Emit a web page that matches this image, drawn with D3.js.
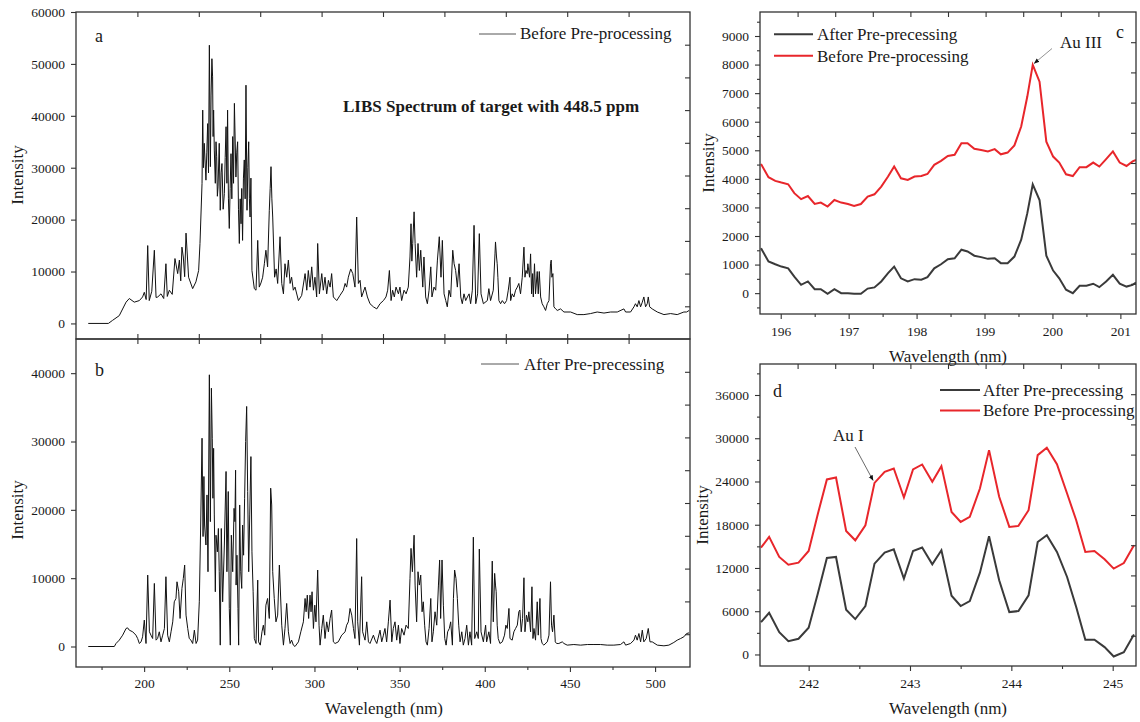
<!DOCTYPE html>
<html>
<head>
<meta charset="utf-8">
<script src="https://cdn.jsdelivr.net/npm/d3@7"></script>
<style>
  body { margin: 0; background: #fff; }
  svg text { font-family: "Liberation Serif", "Times New Roman", serif; fill: #1a1a1a; }
</style>
</head>
<body>
<div id="chart"></div>
<script>
// full spectrum before pre-processing [wavelength nm, intensity]
const spectrumBefore = [
  [167.2,0],[179.0,0],[181.5,600],[185.4,1500],[189.4,4100],[191.3,4800],[194.2,4100],[197.2,4400],
  [199.1,5100],[200.1,6000],[201.2,4600],[202.1,15000],[203.0,4400],[204.5,6200],[206.0,14100],[207.0,5000],[208.0,5100],
  [209.9,5700],[211.5,4800],[212.8,11500],[213.6,5200],[214.8,6400],[216.5,5600],[218.1,12500],[219.7,9600],[220.7,12200],
  [221.5,8200],[222.2,14700],[223.0,12800],[223.8,9000],[224.6,17400],[226.1,8900],[228.5,6700],[230.4,8000],
  [232.0,10200],[232.8,15400],[234.0,27000],[234.4,41100],[234.8,30000],[235.3,34700],[236.3,27600],[236.8,33000],[237.3,38500],
  [237.8,29000],[238.3,53600],[238.9,30200],[239.3,44000],[239.8,51000],[240.2,47500],[240.5,36000],[240.8,41100],[241.2,33400],
  [241.8,27000],[242.2,35000],[242.6,32100],[243.0,24500],[243.4,26300],[244.1,34700],[244.7,21800],[245.2,29000],[245.7,30800],
  [246.4,22000],[247.1,25000],[247.6,32000],[248.1,37900],[248.6,27000],[249.0,41100],[249.5,24000],[250.0,18300],[250.5,26000],[251.0,32700],
  [251.5,24000],[252.0,36000],[252.5,27000],[253.0,42400],[253.9,28200],[254.4,33000],[254.9,35000],[255.4,22000],[255.9,15400],
  [256.4,24000],[256.9,19200],[257.3,26000],[257.8,16000],[258.3,28000],[258.8,31500],[259.3,24000],[259.8,45900],[260.4,21800],
  [260.9,30000],[261.4,35000],[261.8,24000],[262.2,20500],[262.7,28000],[263.3,10200],[264.7,6700],[265.7,6400],[266.7,16000],
  [267.6,7000],[268.6,7800],[269.6,8900],[270.6,11500],[271.5,14100],[272.5,10900],[273.5,21800],[274.0,26000],[274.5,30200],[275.0,24000],
  [275.5,20500],[276.6,8900],[277.5,10500],[278.4,7700],[279.8,16700],[280.8,7700],[281.8,5700],[282.7,11500],[283.7,8900],
  [284.7,12200],[285.7,7700],[286.6,8900],[287.6,6400],[288.6,7000],[290.6,4400],[292.5,5400],[294.5,9600],
  [295.5,6400],[296.4,10200],[297.4,7000],[298.4,10900],[299.4,6400],[300.3,8900],[301.3,5100],[301.9,15400],
  [302.9,5700],[304.3,9600],[305.2,6400],[306.2,8900],[307.2,5700],[308.2,8300],[309.2,7000],[310.1,9600],
  [311.1,5100],[313.1,4400],[315.0,5400],[317.0,6400],[318.0,7700],[318.9,7000],[319.9,8900],[321.3,10500],
  [322.5,9600],[323.8,7000],[324.8,20500],[325.8,7700],[326.8,8300],[327.7,5100],[329.7,7000],[331.1,5100],
  [332.6,3800],[334.6,3200],[336.6,2800],[338.5,3800],[340.5,4400],[342.0,5100],[343.0,6400],[344.0,10200],
  [345.0,4400],[345.9,6400],[346.9,5100],[347.9,7000],[349.3,5700],[350.2,7000],[351.2,4400],[352.6,6400],
  [353.8,5700],[355.1,7000],[356.1,12800],[356.7,19200],[357.2,12000],[357.7,15400],[358.5,21500],[359.1,15400],[360.0,8900],
  [360.8,15400],[361.6,10200],[362.4,14100],[363.6,7000],[364.3,12800],[365.3,5100],[366.3,3800],[367.3,6400],
  [368.3,10900],[369.0,5100],[370.2,7000],[371.2,6400],[372.2,12200],[373.3,16700],[374.3,8900],[375.1,16000],
  [376.1,5700],[377.1,4400],[378.0,3200],[379.0,6400],[380.0,5100],[381.2,14100],[382.0,11500],[382.9,10200],
  [383.9,7000],[384.9,11500],[385.9,5100],[386.8,3800],[387.8,5700],[388.8,4400],[389.8,5100],[390.8,5700],
  [391.7,3800],[392.7,6400],[393.7,18900],[394.7,3800],[395.8,5700],[396.8,17300],[397.8,5700],[399.2,3800],
  [401.5,4400],[402.4,6700],[403.4,4400],[405.0,6400],[406.0,13400],[406.3,15700],[406.9,12800],[407.3,11500],
  [407.7,8900],[408.3,4400],[409.3,3800],[410.3,4400],[411.6,3800],[412.8,4400],[413.8,6400],[414.8,8900],
  [415.2,4400],[416.1,5700],[417.1,5100],[418.1,6400],[419.1,7000],[420.0,7700],[421.0,5700],[422.0,8900],
  [423.0,14700],[423.6,8900],[424.2,10200],[424.9,9600],[425.3,11500],[426.3,8900],[426.9,13400],[427.5,5700],
  [428.1,9600],[428.5,5100],[429.2,11500],[429.8,5700],[430.8,10000],[431.4,5700],[432.0,10000],[432.8,5100],
  [433.7,3800],[434.7,3200],[435.7,2500],[436.7,3800],[437.7,4400],[438.6,11500],[439.0,12200],[439.4,8900],
  [440.0,9600],[440.6,3200],[441.6,2800],[442.6,2500],[444.5,2800],[446.5,2200],[450.4,2200],[454.3,1700],
  [458.2,1700],[462.1,1900],[466.0,2200],[470.0,2000],[473.9,2200],[477.8,2200],[481.7,2800],[482.7,2200],
  [485.6,2200],[487.6,3200],[488.5,3800],[489.5,3200],[490.5,4400],[491.5,3200],[492.5,4100],[493.4,5100],
  [494.4,3200],[495.4,3800],[496.0,5100],[496.8,3200],[498.3,2800],[501.3,2200],[505.2,1700],[509.1,1900],
  [513.0,1700],[516.9,2200],[518.5,2200],[520.0,2500]
];

// full spectrum after pre-processing [wavelength nm, intensity]
const spectrumAfter = [
  [167.2,0],[182.5,0],[183.5,440],[185.4,930],[187.4,1660],[189.4,2640],[190.3,2730],[191.3,2390],
  [193.3,2150],[195.2,1660],[196.2,1170],[197.2,440],[198.2,680],[199.1,1420],[200.1,3860],[201.1,440],
  [202.1,10450],[203.1,2150],[204.0,1660],[205.0,1170],[206.0,9230],[207.0,930],[207.9,1170],[208.9,2150],
  [209.9,680],[210.9,1660],[211.9,2640],[212.8,10210],[213.8,1660],[214.8,680],[215.8,2150],[216.8,3610],
  [217.7,6540],[218.7,7030],[219.3,9470],[220.3,8010],[221.1,4100],[222.2,8500],[223.0,9960],[223.8,11920],
  [224.6,4590],[225.6,2640],[226.5,1170],[227.5,930],[228.5,440],[229.5,2390],[230.5,440],[231.4,930],
  [232.4,6540],[233.2,17780],[234.0,30480],[234.6,16090],[235.1,24880],[235.5,17780],[236.3,14850],[236.9,22180],
  [237.5,10940],[238.3,39760],[238.9,18270],[239.5,37800],[240.0,30480],[240.4,21690],[240.8,29000],[241.2,19250],
  [241.8,8010],[242.2,16290],[243.0,13850],[243.6,17270],[244.1,10940],[244.7,200],[245.3,17270],[246.1,6540],
  [247.1,14850],[248.1,25610],[248.6,10940],[249.4,22680],[250.0,5570],[250.6,200],[251.2,16290],[252.0,10940],
  [252.8,20220],[253.3,18270],[253.7,25800],[254.0,8990],[254.5,13360],[255.1,5570],[255.5,200],[256.1,20710],
  [256.7,10940],[257.3,8500],[257.8,17780],[258.4,13360],[259.0,21690],[259.6,29990],[260.2,35130],[260.8,22680],
  [261.4,10940],[262.0,19250],[262.7,27790],[263.3,13850],[264.0,8010],[264.7,1170],[265.7,440],[266.7,9720],
  [267.2,680],[268.2,200],[269.2,2150],[270.0,3120],[270.8,1660],[271.5,6050],[272.5,7030],[273.5,4100],
  [274.3,23170],[274.9,20710],[275.5,10940],[276.4,7030],[277.4,3610],[278.4,4590],[279.4,11920],
  [280.8,3120],[281.8,200],[282.7,2640],[283.7,6300],[284.7,2150],[285.7,440],[286.6,930],[287.6,200],
  [288.6,0],[290.6,680],[292.0,2150],[293.5,3610],[294.5,7030],[295.1,5080],[295.8,7520],[296.6,4100],
  [297.4,7520],[298.0,5080],[298.6,8010],[299.4,2640],[300.2,6050],[300.9,3610],[301.9,11190],[302.7,3120],
  [303.3,200],[304.3,2640],[305.2,4590],[306.2,1170],[307.2,3610],[308.2,2150],[309.2,4100],[310.1,5330],
  [311.1,680],[312.1,440],[314.0,680],[316.0,1660],[318.0,2150],[318.9,3120],[319.9,3610],[320.9,5570],
  [321.9,4590],[322.9,2640],[323.8,1170],[324.8,15800],[325.4,3610],[326.4,200],[327.7,10210],[328.3,2150],
  [329.7,930],[330.7,3610],[331.7,680],[332.6,440],[334.6,1660],[335.6,930],[336.6,440],[338.5,2390],
  [339.5,680],[340.5,1660],[341.4,2640],[342.4,680],[343.4,3610],[344.4,6790],[345.4,680],[346.3,2640],
  [347.3,3610],[348.3,930],[349.3,3120],[350.2,440],[351.2,2640],[352.6,1660],[353.8,3120],[355.1,2640],
  [356.1,9960],[356.7,14360],[357.5,10940],[358.5,16290],[359.1,8990],[360.0,3610],[360.8,10940],[361.6,8990],
  [362.4,10450],[363.2,5080],[363.9,6540],[364.7,3120],[365.5,680],[366.3,200],[367.3,2640],[368.3,7030],
  [369.0,680],[369.8,2150],[370.8,5080],[371.8,3120],[372.8,8990],[373.5,12660],[374.1,4100],[374.9,12660],
  [375.7,6050],[376.5,1170],[377.3,200],[378.2,2150],[379.2,2640],[380.0,3610],[381.0,200],[381.6,7030],
  [382.3,11190],[383.1,9960],[383.9,7030],[384.7,3120],[385.5,680],[386.5,2150],[387.4,200],[388.4,1170],
  [389.4,3120],[390.4,200],[391.3,2150],[392.3,200],[393.3,16000],[394.1,1170],[395.3,2150],[396.2,1170],
  [396.8,14260],[397.8,2150],[399.2,680],[400.5,3120],[401.1,680],[402.4,2150],[403.4,440],[404.4,12500],
  [405.0,3610],[405.8,10700],[406.3,8990],[406.7,8010],[407.3,3120],[407.9,1170],[408.9,440],[410.3,680],
  [411.6,1660],[412.4,3120],[413.2,2640],[414.2,5570],[414.8,1170],[416.1,930],[417.1,2150],[418.1,2640],
  [419.1,3120],[420.0,5080],[420.6,5330],[421.4,2150],[422.2,4100],[423.0,10060],[423.6,2150],[424.5,4590],
  [425.3,3610],[425.9,5080],[426.9,2150],[427.7,8740],[428.3,1170],[428.9,2640],[429.8,930],[430.8,6540],
  [431.4,1660],[432.4,7030],[433.0,1170],[433.7,440],[434.7,200],[436.7,680],[437.7,1660],[438.6,9470],
  [439.2,3120],[439.8,2150],[440.6,4590],[441.4,680],[442.2,440],[443.5,440],[445.5,680],[446.5,440],
  [448.4,200],[452.3,290],[456.3,200],[460.2,290],[464.1,290],[468.0,290],[471.9,200],[475.8,200],
  [479.7,290],[481.7,680],[482.7,200],[485.6,440],[487.6,930],[488.5,1660],[489.5,930],[490.5,1900],
  [491.5,680],[492.5,2390],[493.4,680],[494.8,1170],[496.0,2640],[497.0,680],[498.3,680],[501.3,200],
  [505.2,100],[508.1,200],[511.0,590],[513.0,930],[515.0,1170],[516.9,1420],[518.5,1900],[520.0,2000]
];

// zoom around Au III line (panel c)
const cWave = [195.71,195.82,195.92,196.01,196.11,196.20,196.30,196.40,196.50,196.59,196.69,196.79,196.89,196.99,
  197.08,197.18,197.28,197.38,197.48,197.58,197.67,197.77,197.87,197.97,198.07,198.16,198.26,198.36,198.46,198.56,
  198.66,198.75,198.85,198.95,199.05,199.15,199.24,199.34,199.44,199.54,199.63,199.71,199.81,199.91,200.01,200.10,
  200.20,200.30,200.40,200.50,200.60,200.69,200.79,200.89,200.99,201.09,201.18,201.23];
const cBefore = [4520,4060,3930,3870,3810,3500,3290,3400,3120,3170,3030,3260,3170,3120,3050,3120,3380,3460,3730,4080,
  4430,4020,3960,4080,4100,4170,4490,4630,4800,4840,5250,5250,5050,5010,4960,5040,4860,4920,5170,5830,6880,7990,7400,
  5300,4780,4570,4160,4100,4410,4410,4570,4430,4690,4960,4570,4450,4610,4660];
const cAfter = [1570,1110,1010,930,870,580,290,410,140,140,-20,140,0,0,-20,-20,160,200,410,700,930,520,410,490,470,
  560,870,1010,1190,1220,1520,1460,1310,1260,1200,1220,1050,1050,1280,1870,2800,3810,3260,1310,790,520,120,0,260,260,
  330,210,410,640,330,230,290,370];

// zoom around Au I line (panel d)
const dWave = [241.53,241.61,241.71,241.80,241.90,242.00,242.09,242.18,242.27,242.37,242.46,242.56,242.65,242.75,
  242.84,242.94,243.03,243.12,243.22,243.31,243.41,243.50,243.59,243.69,243.78,243.88,243.98,244.07,244.17,244.26,
  244.35,244.45,244.55,244.64,244.73,244.82,244.92,245.01,245.11,245.21];
const dBefore = [14830,16310,13530,12460,12740,14360,19460,24280,24550,17140,15840,17930,23810,25340,25810,21780,
  25670,26360,23950,26130,19780,18390,19090,23030,28350,21870,17700,17840,20010,27660,28680,26410,22330,18620,14220,
  14360,13200,11910,12690,15150];
const dAfter = [4490,5790,3100,1850,2180,3710,8430,13390,13530,6210,4910,6720,12600,14130,14590,10520,14360,14830,
  12510,14460,8150,6720,7410,11350,16400,10290,5880,6020,8200,15610,16540,14220,10750,6580,2040,2040,1020,-280,320,2780];

// tick values
const fullTicks = [200, 250, 300, 350, 400, 450, 500];
const fullMinor = [175, 225, 275, 325, 375, 425, 475];
const aTicks = [0, 10000, 20000, 30000, 40000, 50000, 60000];
const bTicks = [0, 10000, 20000, 30000, 40000];
const cTicksX = [196, 197, 198, 199, 200, 201];
const cMinorX = [196.5, 197.5, 198.5, 199.5, 200.5];
const cTicksY = [0, 1000, 2000, 3000, 4000, 5000, 6000, 7000, 8000, 9000];
const cMinorY = [-500, 500, 1500, 2500, 3500, 4500, 5500, 6500, 7500, 8500, 9500];
const dTicksX = [242, 243, 244, 245];
const dMinorX = [242.5, 243.5, 244.5];
const dTicksY = [0, 6000, 12000, 18000, 24000, 30000, 36000];
const dMinorY = [3000, 9000, 15000, 21000, 27000, 33000, 39000];

const W = 1140, H = 722;
const RED = "#e8262b", GREY = "#3a3a3a", FRAME = "#333";

const svg = d3.select("#chart").append("svg")
  .attr("width", W).attr("height", H);

const defs = svg.append("defs");
defs.append("marker")
  .attr("id", "head")
  .attr("viewBox", "0 0 10 10")
  .attr("refX", 9).attr("refY", 5)
  .attr("markerWidth", 7).attr("markerHeight", 7)
  .attr("orient", "auto")
  .append("path").attr("d", "M0,1 L10,5 L0,9 Z").attr("fill", "#111");

function makePanel(id, box, xDomain, yDomain) {
  const x = d3.scaleLinear().domain(xDomain).range([box.x0, box.x1]);
  const y = d3.scaleLinear().domain(yDomain).range([box.y1, box.y0]);
  defs.append("clipPath").attr("id", "clip-" + id)
    .append("rect")
    .attr("x", box.x0).attr("y", box.y0)
    .attr("width", box.x1 - box.x0).attr("height", box.y1 - box.y0);
  return { id, box, x, y, g: svg.append("g") };
}

function frame(p) {
  const b = p.box;
  svg.append("rect")
    .attr("x", b.x0).attr("y", b.y0)
    .attr("width", b.x1 - b.x0).attr("height", b.y1 - b.y0)
    .attr("fill", "none").attr("stroke", FRAME).attr("stroke-width", 1.3);
}

function axis(gen, transform, fontSize) {
  const g = svg.append("g").attr("transform", transform).call(gen);
  g.select(".domain").remove();
  g.selectAll("line").attr("stroke", FRAME).attr("stroke-width", 1.1);
  g.selectAll("text")
    .attr("fill", "#1a1a1a")
    .style("font-family", '"Liberation Serif", "Times New Roman", serif')
    .style("font-size", (fontSize || 13.5) + "px");
  return g;
}

// ticks dividing a side into 10 equal parts (right / top / inner edges)
function divisionTicks(p, side) {
  const b = p.box;
  if (side === "right" || side === "left") {
    const s = d3.scaleLinear().domain([0, 10]).range([b.y1, b.y0]);
    const gen = side === "right" ? d3.axisLeft(s) : d3.axisRight(s);
    axis(gen.tickValues(d3.range(1, 10)).tickSize(5).tickFormat(""), `translate(${side === "right" ? b.x1 : b.x0},0)`);
  } else {
    const s = d3.scaleLinear().domain([0, 10]).range([b.x0, b.x1]);
    const gen = side === "top" ? d3.axisBottom(s) : d3.axisTop(s);
    axis(gen.tickValues(d3.range(1, 10)).tickSize(5).tickFormat(""), `translate(0,${side === "top" ? b.y0 : b.y1})`);
  }
}

function label(text, x, y, size, opts = {}) {
  const t = svg.append("text")
    .attr("x", x).attr("y", y)
    .style("font-size", size + "px")
    .text(text);
  if (opts.anchor) t.attr("text-anchor", opts.anchor);
  if (opts.bold) t.style("font-weight", "bold");
  if (opts.rotate) t.attr("transform", `rotate(-90,${x},${y})`).attr("text-anchor", "middle");
  return t;
}

function legendItem(x1, x2, y, color, width, text, tx, ty) {
  svg.append("line")
    .attr("x1", x1).attr("x2", x2).attr("y1", y).attr("y2", y)
    .attr("stroke", color).attr("stroke-width", width);
  label(text, tx, ty, 17);
}

const fmt = d3.format("d");

// ---------- panel a ----------
const pa = makePanel("a", { x0: 76, x1: 690, y0: 12, y1: 339 }, [160, 520.5], [-3000, 60000]);
pa.g.append("path")
  .datum(spectrumBefore)
  .attr("clip-path", "url(#clip-a)")
  .attr("fill", "none").attr("stroke", "#111").attr("stroke-width", 1)
  .attr("stroke-linejoin", "round")
  .attr("d", d3.line().x(d => pa.x(d[0])).y(d => pa.y(d[1])));
axis(d3.axisLeft(pa.y).tickValues(aTicks).tickSize(5).tickPadding(6).tickFormat(fmt), `translate(${pa.box.x0},0)`);
divisionTicks(pa, "right");
divisionTicks(pa, "top");
divisionTicks(pa, "bottom");
frame(pa);
label("a", 95, 42, 18);
legendItem(479, 516, 34, "#555", 1, "Before Pre-processing", 520, 39);
label("LIBS Spectrum of target with 448.5 ppm", 343, 112, 17, { bold: true });
label("Intensity", 23, 175, 17, { rotate: true });

// ---------- panel b ----------
const pb = makePanel("b", { x0: 76, x1: 690, y0: 339, y1: 667 }, [160, 520.5], [-3000, 45000]);
pb.g.append("path")
  .datum(spectrumAfter)
  .attr("clip-path", "url(#clip-b)")
  .attr("fill", "none").attr("stroke", "#111").attr("stroke-width", 1)
  .attr("stroke-linejoin", "round")
  .attr("d", d3.line().x(d => pb.x(d[0])).y(d => pb.y(d[1])));
axis(d3.axisLeft(pb.y).tickValues(bTicks).tickSize(5).tickPadding(6).tickFormat(fmt), `translate(${pb.box.x0},0)`);
axis(d3.axisBottom(pb.x).tickValues(fullTicks).tickSize(5).tickPadding(6).tickFormat(fmt), `translate(0,${pb.box.y1})`);
axis(d3.axisBottom(pb.x).tickValues(fullMinor).tickSize(3).tickFormat(""), `translate(0,${pb.box.y1})`);
divisionTicks(pb, "right");
divisionTicks(pb, "top");
frame(pb);
label("b", 95, 376, 18);
legendItem(481, 519, 364, "#555", 1, "After Pre-precessing", 524, 369.5);
label("Intensity", 23, 510, 17, { rotate: true });
label("Wavelength (nm)", 384, 713.5, 17, { anchor: "middle" });

// ---------- panel c ----------
const pc = makePanel("c", { x0: 760, x1: 1136, y0: 12, y1: 314 }, [195.695, 201.23], [-730, 9840]);
const lineC = vals => d3.line().x((d, i) => pc.x(cWave[i])).y(d => pc.y(d))(vals);
pc.g.append("path").attr("clip-path", "url(#clip-c)")
  .attr("fill", "none").attr("stroke", GREY).attr("stroke-width", 2).attr("d", lineC(cAfter));
pc.g.append("path").attr("clip-path", "url(#clip-c)")
  .attr("fill", "none").attr("stroke", RED).attr("stroke-width", 2).attr("d", lineC(cBefore));
axis(d3.axisLeft(pc.y).tickValues(cTicksY).tickSize(5).tickPadding(6).tickFormat(fmt), `translate(${pc.box.x0},0)`);
axis(d3.axisLeft(pc.y).tickValues(cMinorY).tickSize(3).tickFormat(""), `translate(${pc.box.x0},0)`);
axis(d3.axisBottom(pc.x).tickValues(cTicksX).tickSize(5).tickPadding(7).tickFormat(fmt), `translate(0,${pc.box.y1})`);
axis(d3.axisBottom(pc.x).tickValues(cMinorX).tickSize(3).tickFormat(""), `translate(0,${pc.box.y1})`);
divisionTicks(pc, "right");
divisionTicks(pc, "top");
label("Wavelength (nm)", 948, 361.5, 17, { anchor: "middle" });
frame(pc);
legendItem(774, 813, 34.3, GREY, 2, "After Pre-precessing", 817, 40);
legendItem(774, 813, 55.7, RED, 2, "Before Pre-processing", 817, 61.5);
label("c", 1116, 38, 18);
label("Au III", 1060, 48, 17);
const peakC = d3.maxIndex(cBefore);
svg.append("line")
  .attr("x1", 1052).attr("y1", 48.5)
  .attr("x2", pc.x(cWave[peakC]) + 1.5).attr("y2", pc.y(cBefore[peakC]) - 1.5)
  .attr("stroke", "#777").attr("stroke-width", 0.8)
  .attr("marker-end", "url(#head)");
label("Intensity", 714, 163, 17, { rotate: true });

// ---------- panel d ----------
const pd = makePanel("d", { x0: 760, x1: 1136, y0: 364, y1: 666 }, [241.52, 245.23], [-1600, 40300]);
const lineD = vals => d3.line().x((d, i) => pd.x(dWave[i])).y(d => pd.y(d))(vals);
pd.g.append("path").attr("clip-path", "url(#clip-d)")
  .attr("fill", "none").attr("stroke", GREY).attr("stroke-width", 2).attr("d", lineD(dAfter));
pd.g.append("path").attr("clip-path", "url(#clip-d)")
  .attr("fill", "none").attr("stroke", RED).attr("stroke-width", 2).attr("d", lineD(dBefore));
axis(d3.axisLeft(pd.y).tickValues(dTicksY).tickSize(5).tickPadding(6).tickFormat(fmt), `translate(${pd.box.x0},0)`);
axis(d3.axisLeft(pd.y).tickValues(dMinorY).tickSize(3).tickFormat(""), `translate(${pd.box.x0},0)`);
axis(d3.axisBottom(pd.x).tickValues(dTicksX).tickSize(5).tickPadding(7).tickFormat(fmt), `translate(0,${pd.box.y1})`);
axis(d3.axisBottom(pd.x).tickValues(dMinorX).tickSize(3).tickFormat(""), `translate(0,${pd.box.y1})`);
divisionTicks(pd, "right");
divisionTicks(pd, "top");
frame(pd);
label("d", 773, 397, 18);
legendItem(940, 980, 390, GREY, 2, "After Pre-precessing", 983, 395.5);
legendItem(940, 980, 410.5, RED, 2, "Before Pre-processing", 983, 416);
label("Au I", 833, 441, 17);
const auI = 12; // index of the Au I point on the red curve
svg.append("line")
  .attr("x1", 855).attr("y1", 447)
  .attr("x2", pd.x(dWave[auI]) - 1.5).attr("y2", pd.y(dBefore[auI]) - 2.5)
  .attr("stroke", "#444").attr("stroke-width", 0.8)
  .attr("marker-end", "url(#head)");
label("Intensity", 708, 515, 17, { rotate: true });
label("Wavelength (nm)", 948, 713.5, 17, { anchor: "middle" });
</script>
</body>
</html>
